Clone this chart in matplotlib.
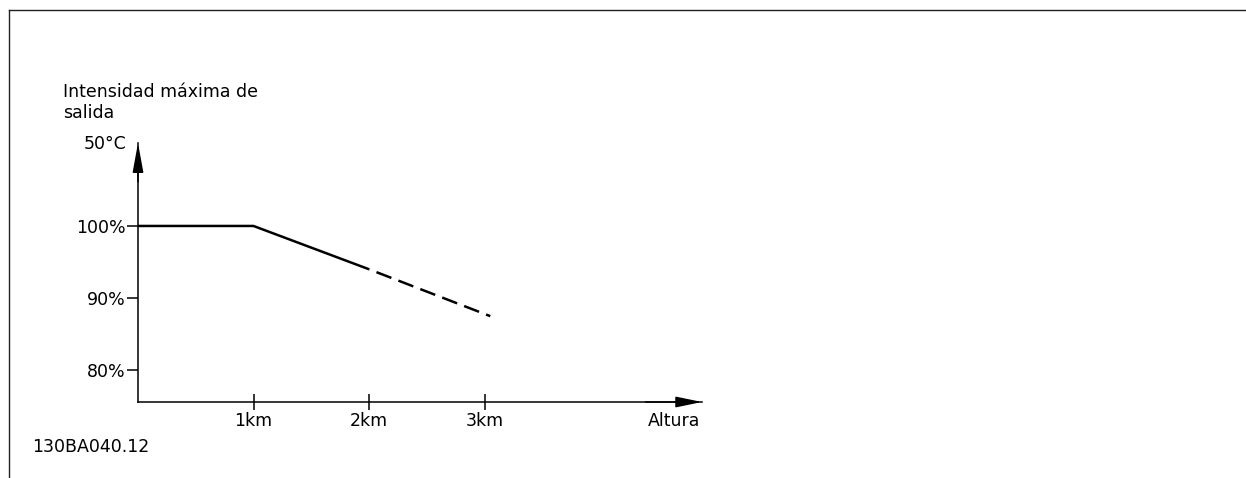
import matplotlib
matplotlib.use("Agg")
import matplotlib.pyplot as plt
from matplotlib.lines import Line2D

# derating curve: intensidad maxima de salida vs altura (50 C)
alt_solid = [0, 1, 2]
val_solid = [100, 100, 94]
alt_dash = [2, 3.05]
val_dash = [94, 87.5]

xticks = [1, 2, 3]
xlabels = ["1km", "2km", "3km"]
yticks = [80, 90, 100]
ylabels = ["80%", "90%", "100%"]

W, H = 1246, 478
FS = 12.5
plt.rcParams['font.family'] = ['DejaVu Sans']

fig = plt.figure(figsize=(W / 100, H / 100), dpi=100)

# axes box in pixels: y-axis at x=138, x-axis at y=402, arrow tips at 702 / 143
x0, x1, ytop, ybot = 138, 702, 143, 402
ax = fig.add_axes([x0 / W, (H - ybot) / H, (x1 - x0) / W, (ybot - ytop) / H])
ax.set_xlim(0, 4.883)
ax.set_ylim(75.6, 111.5)
ax.patch.set_alpha(0)

for s in ["top", "right"]:
    ax.spines[s].set_visible(False)
for s in ["left", "bottom"]:
    ax.spines[s].set_linewidth(1.1)
    ax.spines[s].set_color("black")

ax.set_xticks(xticks)
ax.set_xticklabels(xlabels, fontsize=FS)
ax.set_yticks(yticks)
ax.set_yticklabels(ylabels, fontsize=FS)
ax.tick_params(axis="x", direction="inout", length=12, width=1.1, pad=1)
ax.tick_params(axis="y", direction="out", length=8, width=1.1, pad=1)

# arrow heads on the axes
ax.annotate("", xy=(1, 0), xycoords="axes fraction", xytext=(0.9, 0),
            arrowprops=dict(arrowstyle="-|>,head_length=1.6,head_width=0.33",
                            mutation_scale=10, color="black", lw=1.1,
                            shrinkA=0, shrinkB=0))
ax.annotate("", xy=(0, 1), xycoords="axes fraction", xytext=(0, 0.85),
            arrowprops=dict(arrowstyle="-|>,head_length=1.8,head_width=0.33",
                            mutation_scale=10, color="black", lw=1.1,
                            shrinkA=0, shrinkB=0))

ax.plot(alt_solid, val_solid, color="black", lw=1.8, solid_capstyle="butt")
ax.plot(alt_dash, val_dash, color="black", lw=1.8, linestyle=(6.2, (6.4, 3.0)),
        dash_capstyle="butt")

def px(x, y):
    return x / W, 1 - y / H

fig.text(*px(63, 97), "Intensidad máxima de", fontsize=FS,
         ha="left", va="baseline")
fig.text(*px(63, 118), "salida", fontsize=FS, ha="left", va="baseline")
fig.text(*px(126, 149), "50°C", fontsize=FS, ha="right", va="baseline")
fig.text(*px(700, 426), "Altura", fontsize=FS, ha="right", va="baseline")
fig.text(*px(32, 452), "130BA040.12", fontsize=FS, ha="left", va="baseline")

# drawing frame (top and left edges)
fig.add_artist(Line2D([9 / W, 1], [1 - 10 / H, 1 - 10 / H], color="#222222",
                      lw=1.0, transform=fig.transFigure))
fig.add_artist(Line2D([9 / W, 9 / W], [1 - 10 / H, 0], color="#222222",
                      lw=1.0, transform=fig.transFigure))

fig.savefig("out.png", dpi=100)
